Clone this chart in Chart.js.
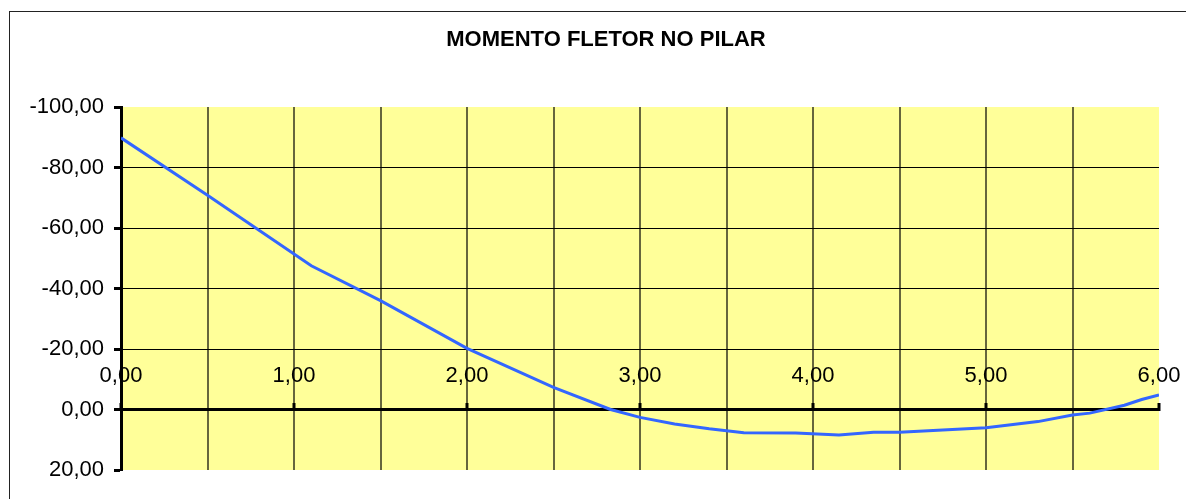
<!DOCTYPE html>
<html>
<head>
<meta charset="utf-8">
<title>Momento fletor no pilar</title>
<script src="https://cdn.jsdelivr.net/npm/chart.js@4.4.0/dist/chart.umd.min.js"></script>
<style>
  html, body { margin: 0; padding: 0; background: #fff; }
  canvas { display: block; }
</style>
</head>
<body>
<canvas id="momentChart" width="1186" height="499"></canvas>
<script>
// Momento fletor ao longo do pilar
var chartTitle = "MOMENTO FLETOR NO PILAR";
var positions = [0, 0.5, 1.1, 1.5, 2.0, 2.5, 2.83, 3.0, 3.2, 3.4, 3.6, 3.9, 4.15, 4.35, 4.5, 5.0, 5.3, 5.5, 5.6, 5.8, 5.9, 6.0];
var moments = [-89.8, -70.8, -47.5, -36.0, -20.2, -7.3, 0.0, 2.6, 4.8, 6.4, 7.7, 7.8, 8.4, 7.5, 7.5, 6.0, 4.0, 1.8, 1.2, -1.4, -3.3, -4.8];
var xGridValues = [0, 0.5, 1, 1.5, 2, 2.5, 3, 3.5, 4, 4.5, 5, 5.5, 6];
var yTickValues = [-100, -80, -60, -40, -20, 0, 20];

var FONT = '"Liberation Sans", Arial, sans-serif';

function fmt(v) {
    return v.toFixed(2).replace('.', ',');
}

// fundo branco, moldura, área amarela e título
var chartFrame = {
    id: 'chartFrame',
    beforeDraw: function(chart) {
        var ctx = chart.ctx;
        var a = chart.chartArea;
        ctx.save();
        ctx.fillStyle = '#fff';
        ctx.fillRect(0, 0, chart.width, chart.height);
        ctx.strokeStyle = '#222';
        ctx.lineWidth = 1;
        ctx.strokeRect(9.5, 11.5, chart.width + 20, chart.height + 20);
        ctx.fillStyle = '#FFFF99';
        ctx.fillRect(a.left, a.top, a.right - a.left, a.bottom - a.top);
        ctx.font = 'bold 22px ' + FONT;
        ctx.fillStyle = '#000';
        ctx.textAlign = 'center';
        ctx.textBaseline = 'middle';
        ctx.fillText(chartTitle, 606, 40);
        ctx.restore();
    }
};

var ctx = document.getElementById("momentChart").getContext("2d");
var momentChart = new Chart(ctx, {
    type: "line",
    data: {
        datasets: [{
            label: "Momento fletor",
            data: positions.map(function(x, i) { return { x: x, y: moments[i] }; }),
            borderColor: "#3366FF",
            borderWidth: 3,
            pointRadius: 0,
            tension: 0,
            fill: false
        }]
    },
    options: {
        responsive: false,
        animation: false,
        layout: { padding: { top: 107, right: 27, bottom: 29, left: 0 } },
        plugins: {
            legend: { display: false },
            tooltip: { enabled: false }
        },
        scales: {
            x: {
                type: "linear",
                position: { y: 0 },
                min: 0,
                max: 6,
                afterBuildTicks: function(scale) {
                    scale.ticks = xGridValues.map(function(v) { return { value: v }; });
                },
                grid: {
                    color: function(c) { return c.tick.value === 6 ? 'transparent' : 'rgba(0,0,0,0.6)'; },
                    lineWidth: 2,
                    tickLength: -8,
                    tickWidth: 3,
                    tickColor: function(c) { return Number.isInteger(c.tick.value) ? '#000' : 'transparent'; }
                },
                border: { display: true, color: '#000', width: 3 },
                ticks: {
                    autoSkip: false,
                    maxRotation: 0,
                    padding: -39,
                    color: '#000',
                    font: { family: FONT, size: 22 },
                    callback: function(value) { return Number.isInteger(value) ? fmt(value) : ''; }
                }
            },
            y: {
                type: "linear",
                position: "left",
                reverse: true,
                min: -100,
                max: 20,
                afterBuildTicks: function(scale) {
                    scale.ticks = yTickValues.map(function(v) { return { value: v }; });
                },
                afterFit: function(scale) { scale.width = 121; },
                grid: {
                    color: function(c) { var v = c.tick.value; return (v === -100 || v === 20) ? 'transparent' : '#000'; },
                    lineWidth: 1,
                    tickLength: 7,
                    tickWidth: 3,
                    tickColor: '#000'
                },
                border: { display: true, color: '#000', width: 3 },
                ticks: {
                    padding: 10,
                    color: '#000',
                    font: { family: FONT, size: 22 },
                    callback: function(value) { return fmt(value); }
                }
            }
        }
    },
    plugins: [chartFrame]
});
</script>
</body>
</html>
